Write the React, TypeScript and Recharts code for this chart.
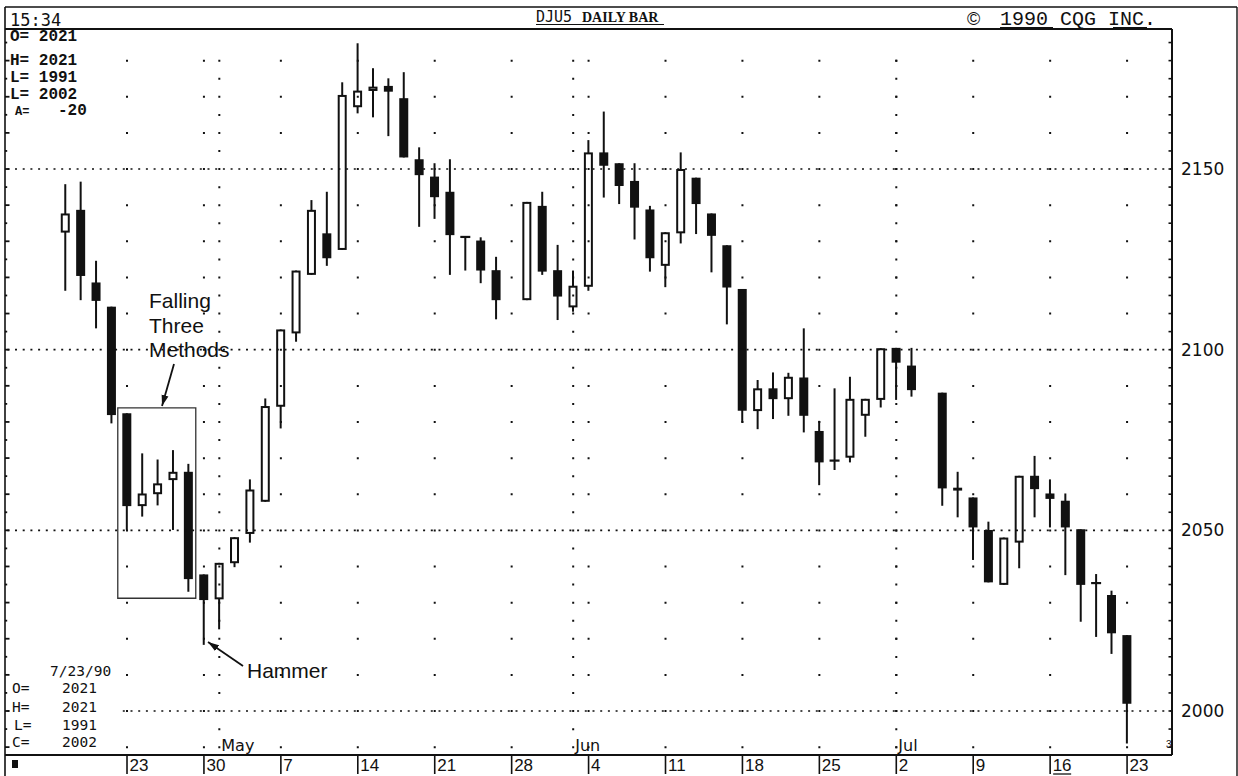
import React from 'react';
import { ComposedChart, Bar, XAxis, YAxis, ReferenceLine, ReferenceArea } from 'recharts';

// ---------------- data ----------------
const dates = [
  '1990-04-17', '1990-04-18', '1990-04-19', '1990-04-20',
  '1990-04-23', '1990-04-24', '1990-04-25', '1990-04-26', '1990-04-27',
  '1990-04-30', '1990-05-01', '1990-05-02', '1990-05-03', '1990-05-04',
  '1990-05-07', '1990-05-08', '1990-05-09', '1990-05-10', '1990-05-11',
  '1990-05-14', '1990-05-15', '1990-05-16', '1990-05-17', '1990-05-18',
  '1990-05-21', '1990-05-22', '1990-05-23', '1990-05-24', '1990-05-25',
  '1990-05-29', '1990-05-30', '1990-05-31', '1990-06-01',
  '1990-06-04', '1990-06-05', '1990-06-06', '1990-06-07', '1990-06-08',
  '1990-06-11', '1990-06-12', '1990-06-13', '1990-06-14', '1990-06-15',
  '1990-06-18', '1990-06-19', '1990-06-20', '1990-06-21', '1990-06-22',
  '1990-06-25', '1990-06-26', '1990-06-27', '1990-06-28', '1990-06-29',
  '1990-07-02', '1990-07-03', '1990-07-05', '1990-07-06',
  '1990-07-09', '1990-07-10', '1990-07-11', '1990-07-12', '1990-07-13',
  '1990-07-16', '1990-07-17', '1990-07-18', '1990-07-19', '1990-07-20',
  '1990-07-23',
];

const opens = [
  2132.4, 2138.7, 2118.6, 2111.9,
  2082.4, 2056.7, 2060.0, 2063.9, 2066.2,
  2037.8, 2030.9, 2040.9, 2049.0, 2057.9,
  2084.2, 2104.5, 2120.7, 2132.2, 2127.6,
  2167.1, 2171.6, 2173.0, 2169.6, 2152.7,
  2147.9, 2143.7, 2131.2, 2130.2, 2122.0,
  2113.7, 2139.8, 2122.0, 2111.7,
  2117.4, 2154.6, 2151.6, 2146.7, 2138.8,
  2123.2, 2132.2, 2147.6, 2137.7, 2128.9,
  2116.8, 2083.0, 2089.3, 2086.3, 2092.3,
  2077.5, 2069.3, 2070.1, 2081.7, 2086.1,
  2100.5, 2095.6, 2088.1, 2061.8,
  2059.1, 2050.1, 2034.9, 2046.6, 2065.1,
  2060.2, 2058.2, 2050.3, 2035.4, 2032.1,
  2021,
];

const highs = [
  2145.8, 2146.5, 2124.6, 2111.9,
  2082.4, 2071.3, 2069.6, 2072.2, 2068.4,
  2037.8, 2041.0, 2048.1, 2064.1, 2086.5,
  2105.6, 2121.9, 2141.4, 2143.7, 2174.0,
  2184.8, 2177.9, 2175.1, 2176.8, 2156.0,
  2151.6, 2152.7, 2131.2, 2131.1, 2125.7,
  2140.9, 2143.7, 2129.0, 2121.9,
  2158.0, 2165.9, 2151.6, 2151.6, 2139.8,
  2132.5, 2154.6, 2147.6, 2137.7, 2128.9,
  2116.8, 2091.6, 2093.7, 2093.6, 2105.9,
  2080.3, 2089.3, 2092.5, 2086.4, 2100.4,
  2100.5, 2100.5, 2088.1, 2066.2,
  2059.1, 2052.4, 2048.0, 2065.1, 2070.6,
  2064.1, 2060.2, 2050.3, 2037.9, 2033.3,
  2021,
];

const lows = [
  2116.3, 2113.7, 2105.9, 2079.6,
  2050.1, 2053.8, 2056.9, 2050.1, 2033.0,
  2018.3, 2022.6, 2039.8, 2046.6, 2057.9,
  2078.2, 2102.2, 2120.7, 2123.2, 2127.6,
  2165.4, 2164.3, 2159.1, 2153.2, 2134.0,
  2136.2, 2120.7, 2121.9, 2118.4, 2108.4,
  2113.7, 2120.7, 2108.2, 2110.5,
  2116.3, 2142.1, 2140.3, 2130.5, 2121.6,
  2117.3, 2129.4, 2132.0, 2121.4, 2107.0,
  2079.8, 2078.0, 2080.8, 2081.7, 2077.1,
  2062.5, 2066.7, 2068.8, 2075.9, 2084.0,
  2086.1, 2087.0, 2056.8, 2053.6,
  2041.8, 2035.6, 2034.9, 2039.5, 2053.6,
  2050.8, 2037.6, 2024.7, 2020.5, 2015.8,
  1991,
];

const closes = [
  2137.7, 2120.4, 2113.5, 2081.9,
  2056.7, 2060.2, 2063.0, 2066.2, 2036.5,
  2030.7, 2041.0, 2048.1, 2061.3, 2084.4,
  2105.6, 2121.9, 2138.7, 2125.3, 2170.5,
  2171.7, 2172.8, 2171.4, 2153.2, 2148.3,
  2142.2, 2131.7, 2131.0, 2121.9, 2113.7,
  2140.9, 2121.6, 2114.7, 2117.7,
  2154.6, 2150.9, 2145.3, 2139.3, 2125.3,
  2132.5, 2150.0, 2140.3, 2131.5, 2117.2,
  2083.1, 2089.3, 2086.3, 2092.5, 2081.7,
  2068.8, 2069.1, 2086.4, 2086.4, 2100.4,
  2096.4, 2088.8, 2061.6, 2061.0,
  2050.8, 2035.6, 2048.0, 2065.1, 2061.4,
  2058.7, 2050.8, 2034.9, 2035.2, 2021.5,
  2002,
];

// Monday week ticks and their labels
const weekTickDates = [
  '1990-04-23', '1990-04-30', '1990-05-07', '1990-05-14', '1990-05-21', '1990-05-28', '1990-06-04',
  '1990-06-11', '1990-06-18', '1990-06-25', '1990-07-02', '1990-07-09', '1990-07-16', '1990-07-23',
];
const weekTickLabels = ['23', '30', '7', '14', '21', '28', '4', '11', '18', '25', '2', '9', '16', '23'];
const underlinedTick = '1990-07-16';

// first trading day of each month
const monthDates = ['1990-05-01', '1990-06-01', '1990-07-02'];
const monthLabels = ['May', 'Jun', 'Jul'];

const priceGridLines = [2000, 2050, 2100, 2150];

// annotation box ("Falling Three Methods") in data units: trading-day index / price
const boxSlots = [-0.6, 4.47];
const boxPrices = [2031.2, 2083.9];

// ---------------- helpers ----------------
const BASE = Date.UTC(1990, 3, 23); // Monday Apr 23 1990 = index 0
function slotOf(d: string): number {
  const [y, m, dd] = d.split('-').map(Number);
  const days = Math.round((Date.UTC(y, m - 1, dd) - BASE) / 86400000);
  const weeks = Math.floor(days / 7);
  const rem = days - weeks * 7;
  return weeks * 5 + Math.min(rem, 5);
}

const data = dates.map((d, i) => ({
  t: slotOf(d),
  range: [lows[i], highs[i]],
  o: opens[i],
  h: highs[i],
  l: lows[i],
  c: closes[i],
}));

const weekTicks = weekTickDates.map(slotOf);
const tickLabelBySlot: Record<number, { label: string; underline: boolean }> = {};
weekTickDates.forEach((d, i) => {
  tickLabelBySlot[slotOf(d)] = { label: weekTickLabels[i], underline: d === underlinedTick };
});
const monthSlots = monthDates.map(slotOf);
const monthLabelBySlot: Record<number, string> = {};
monthDates.forEach((d, i) => {
  monthLabelBySlot[slotOf(d)] = monthLabels[i];
});

const minorTicks: number[] = [];
for (let v = 1990; v <= 2185; v += 5) minorTicks.push(v);

// ---------------- layout ----------------
const W = 1238;
const H = 776;
const M_TOP = 29;
const M_LEFT = 5;
const X_AXIS_H = 21;
const Y_AXIS_W = 66;
const X_MIN = -7.93;
const X_MAX = 67.92;
const Y_MIN = 1987.82;
const Y_MAX = 2188.75;
const PLOT_H = H - M_TOP - X_AXIS_H;
const PX_PER_PT = PLOT_H / (Y_MAX - Y_MIN);
const Y_TICK_SIZE = 8;
const Y_TICK_MARGIN = 1;

const INK = '#111';

// ---------------- custom shapes ----------------
const Candle = (props: any) => {
  const { x, y, width, height, payload } = props;
  if (!payload || x == null || y == null) return null;
  const { o, h, l, c } = payload;
  const top = Math.min(y, y + height);
  const hp = Math.abs(height);
  const span = h - l;
  const k = span > 0 ? hp / span : 0;
  const py = (v: number) => top + (h - v) * k;
  const cx = x + width / 2;
  const bw = width;
  const bTop = py(Math.max(o, c));
  const bBot = py(Math.min(o, c));
  const doji = Math.abs(c - o) < 0.5;
  const up = c > o;
  return (
    <g>
      <line x1={cx} x2={cx} y1={py(h)} y2={py(l)} stroke={INK} strokeWidth={2} />
      {doji ? (
        <line x1={cx - bw / 2 - 0.5} x2={cx + bw / 2 + 0.5} y1={py(o)} y2={py(o)} stroke={INK} strokeWidth={2.2} />
      ) : up ? (
        <rect x={cx - bw / 2 + 1} y={bTop + 1} width={bw - 2} height={Math.max(bBot - bTop - 2, 0.5)} fill="#fff" stroke={INK} strokeWidth={2} />
      ) : (
        <rect x={cx - bw / 2} y={bTop} width={bw} height={Math.max(bBot - bTop, 2)} fill={INK} />
      )}
    </g>
  );
};

const XTick = (props: any) => {
  const { x, y, payload } = props;
  const info = tickLabelBySlot[payload.value];
  if (!info) return null;
  return (
    <g>
      <line x1={x} x2={x} y1={y} y2={y + 18} stroke={INK} strokeWidth={1.6} />
      <text x={x + 2.5} y={y + 15} fontFamily="'Liberation Sans', Arial, sans-serif" fontSize={17} fill={INK}>
        {info.label}
      </text>
      {info.underline && <line x1={x + 3} x2={x + 21} y1={y + 18} y2={y + 18} stroke={INK} strokeWidth={1.3} />}
    </g>
  );
};

// right-axis ticks (inward) + labels, and matching small ticks on the left frame
const RightTick = (props: any) => {
  const { x, y, payload } = props;
  const v = payload.value;
  const axisX = x - Y_TICK_SIZE - Y_TICK_MARGIN;
  const major = v % 50 === 0;
  const ten = v % 10 === 0;
  return (
    <g>
      <line x1={axisX - 3.5} x2={axisX} y1={y} y2={y} stroke={INK} strokeWidth={1.6} />
      <line x1={M_LEFT} x2={M_LEFT + (ten ? 4.5 : 2.2)} y1={y} y2={y} stroke={INK} strokeWidth={1.8} />
      {major && (
        <text x={x} y={y + 6} fontFamily="'DejaVu Sans', sans-serif" fontSize={17} fill={INK}>
          {v}
        </text>
      )}
    </g>
  );
};

const mono = "'Liberation Mono', 'Courier New', monospace";
const sansMono = "'DejaVu Sans Mono', monospace";
const sans = "'Liberation Sans', Arial, sans-serif";

export default function App() {
  const dot10 = `2 ${10 * PX_PER_PT - 2}`;
  const dot5 = `2 ${5 * PX_PER_PT - 2}`;
  return (
    <div style={{ position: 'absolute', left: 0, top: 0, width: W, height: H, background: '#fff', overflow: 'hidden' }}>
      <ComposedChart
        width={W}
        height={H}
        data={data}
        margin={{ top: M_TOP, right: 0, bottom: 0, left: M_LEFT }}
      >
        <XAxis
          dataKey="t"
          type="number"
          domain={[X_MIN, X_MAX]}
          allowDataOverflow
          ticks={weekTicks}
          interval={0}
          tick={<XTick />}
          tickLine={false}
          tickSize={1}
          tickMargin={0}
          axisLine={{ stroke: INK, strokeWidth: 2 }}
          height={X_AXIS_H}
        />
        <YAxis
          orientation="right"
          type="number"
          domain={[Y_MIN, Y_MAX]}
          allowDataOverflow
          ticks={minorTicks}
          interval={0}
          tick={<RightTick />}
          tickLine={false}
          tickSize={Y_TICK_SIZE}
          tickMargin={Y_TICK_MARGIN}
          axisLine={{ stroke: INK, strokeWidth: 2 }}
          width={Y_AXIS_W}
        />

        {priceGridLines.map((p) => (
          <ReferenceLine key={'h' + p} y={p} stroke={INK} strokeWidth={1.7} strokeDasharray="2 5.7" />
        ))}
        {weekTicks.map((s) => (
          <ReferenceLine
            key={'w' + s}
            segment={[{ x: s, y: 1989.7 }, { x: s, y: 2181 }]}
            stroke={INK}
            strokeWidth={2}
            strokeDasharray={dot10}
          />
        ))}
        {monthSlots.map((s) => (
          <ReferenceLine
            key={'m' + s}
            segment={[{ x: s, y: 1989.7 }, { x: s, y: 2181 }]}
            stroke={INK}
            strokeWidth={2}
            strokeDasharray={dot5}
            label={{
              value: monthLabelBySlot[s],
              position: 'insideBottomLeft',
              offset: 0,
              dx: 2,
              dy: 3,
              fill: INK,
              fontSize: 16,
              fontFamily: "'DejaVu Sans', sans-serif",
            }}
          />
        ))}
        <ReferenceArea
          x1={boxSlots[0]}
          x2={boxSlots[1]}
          y1={boxPrices[0]}
          y2={boxPrices[1]}
          fill="none"
          fillOpacity={0}
          stroke="#333"
          strokeWidth={1.3}
        />

        <Bar dataKey="range" barSize={9} shape={<Candle />} isAnimationActive={false} />
      </ComposedChart>

      <svg width={W} height={H} style={{ position: 'absolute', left: 0, top: 0, pointerEvents: 'none' }}>
        <defs>
          <marker id="ah" markerUnits="userSpaceOnUse" markerWidth="12" markerHeight="8" refX="11" refY="4" orient="auto">
            <path d="M0,0.5 L11,4 L0,7.5 z" fill={INK} />
          </marker>
        </defs>

        {/* frame */}
        <line x1={5} x2={5} y1={7} y2={H} stroke={INK} strokeWidth={1.6} />
        <line x1={5} x2={1237} y1={7} y2={7} stroke={INK} strokeWidth={1.4} />
        <line x1={1237} x2={1237} y1={7} y2={H} stroke={INK} strokeWidth={1.4} />

        {/* header */}
        <text x={10} y={26} fontFamily={sansMono} fontSize={17} fill={INK}>15:34</text>
        <text x={536} y={22} fontFamily={sansMono} fontSize={15} fill={INK}>DJU5</text>
        <text x={582} y={22} fontFamily="'Liberation Serif', serif" fontWeight="bold" fontSize={14} fill={INK}>DAILY BAR</text>
        <line x1={536} x2={664} y1={24.5} y2={24.5} stroke={INK} strokeWidth={1} />
        <text x={967} y={25} fontFamily={sans} fontSize={18} fill={INK}>©</text>
        <text x={1000} y={25} fontFamily={mono} fontSize={20} fill={INK}>1990 CQG INC.</text>
        <line x1={1000} x2={1053} y1={27.5} y2={27.5} stroke={INK} strokeWidth={1} />
        <line x1={1113} x2={1147} y1={27.5} y2={27.5} stroke={INK} strokeWidth={1} />

        {/* top-left info */}
        <g fontFamily={mono} fontWeight="bold" fontSize={16} fill={INK}>
          <text x={10} y={41}>O=  2021</text>
          <text x={10} y={65}>H=  2021</text>
          <text x={10} y={82}>L=  1991</text>
          <text x={10} y={99}>L=  2002</text>
          <text x={15} y={115} fontSize={12}>A=</text>
          <text x={58} y={115}>-20</text>
        </g>
        <line x1={5} x2={1172} y1={29} y2={29} stroke={INK} strokeWidth={2.2} />

        {/* bottom-left info */}
        <rect x={10} y={662} width={108} height={91} fill="#fff" />
        <g fontFamily={sansMono} fontSize={14.5} fill={INK}>
          <text x={50} y={676}>7/23/90</text>
          <text x={12} y={693}>O=</text>
          <text x={62} y={693}>2021</text>
          <text x={12} y={712}>H=</text>
          <text x={62} y={712}>2021</text>
          <text x={14} y={729.5}>L=</text>
          <text x={62} y={729.5}>1991</text>
          <text x={12} y={747}>C=</text>
          <text x={62} y={747}>2002</text>
        </g>
        <rect x={12} y={760} width={6} height={8} fill={INK} />
        <text x={1166} y={748} fontFamily={sans} fontSize={10} fill={INK}>3</text>

        {/* annotations */}
        <g fontFamily={sans} fontSize={21} fill={INK}>
          <text x={149} y={308}>Falling</text>
          <text x={149} y={333}>Three</text>
          <text x={149} y={357}>Methods</text>
          <text x={247} y={678}>Hammer</text>
        </g>
        <line x1={174} y1={364} x2={162} y2={406} stroke={INK} strokeWidth={1.8} markerEnd="url(#ah)" />
        <line x1={243} y1={666} x2={208} y2={642} stroke={INK} strokeWidth={1.8} markerEnd="url(#ah)" />
      </svg>
    </div>
  );
}
